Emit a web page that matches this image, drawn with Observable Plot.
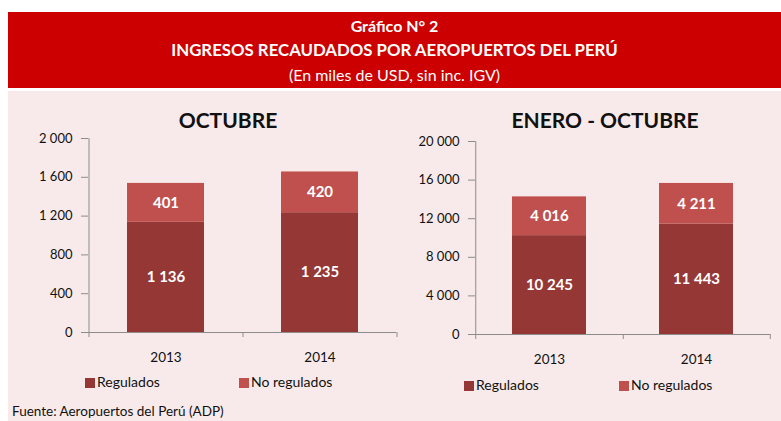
<!DOCTYPE html>
<html>
<head>
<meta charset="utf-8">
<script src="https://cdn.jsdelivr.net/npm/d3@7"></script>
<script src="https://cdn.jsdelivr.net/npm/@observablehq/plot@0.6"></script>
<style>
  html, body { margin: 0; padding: 0; background: #ffffff; }
  body { width: 781px; height: 421px; position: relative; overflow: hidden; font-family: Lato, "Open Sans", sans-serif; }
  #header { position: absolute; left: 8px; top: 12px; width: 773px; height: 76px; background: #cc0000; color: #fff; text-align: center; }
  #header .l1 { position: absolute; left: 0; right: 0; top: 4px; font-size: 16px; font-weight: bold; }
  #header .l2 { position: absolute; left: 0; right: 0; top: 27px; font-size: 16.8px; font-weight: bold; }
  #header .l3 { position: absolute; left: 0; right: 0; top: 53px; font-size: 16px; }
  #panel { position: absolute; left: 8px; top: 91px; width: 773px; height: 330px; background: #f8eaea; }
  .ctitle { position: absolute; font-size: 21px; font-weight: bold; color: #111; transform: translateX(-50%); white-space: nowrap; }
  .chart { position: absolute; }
  .legend { position: absolute; font-size: 14px; color: #111; white-space: nowrap; }
  .legend .sw { display: inline-block; width: 10px; height: 10px; margin-right: 2px; vertical-align: -1px; }
  #fuente { position: absolute; left: 12px; top: 403px; font-size: 13.5px; color: #111; }
</style>
</head>
<body>
<div id="header">
  <div class="l1">Gráfico N° 2</div>
  <div class="l2">INGRESOS RECAUDADOS POR AEROPUERTOS DEL PERÚ</div>
  <div class="l3">(En miles de USD, sin inc. IGV)</div>
</div>
<div id="panel"></div>
<div class="ctitle" style="left:228px; top:107px;">OCTUBRE</div>
<div class="ctitle" style="left:605px; top:107px;">ENERO - OCTUBRE</div>
<div id="c1" class="chart" style="left:0px; top:130px;"></div>
<div id="c2" class="chart" style="left:390px; top:130px;"></div>
<div class="legend" style="left:85px; top:373px;"><span class="sw" style="background:#953735"></span>Regulados</div>
<div class="legend" style="left:239px; top:373px;"><span class="sw" style="background:#c0504d"></span>No regulados</div>
<div class="legend" style="left:464px; top:376px;"><span class="sw" style="background:#953735"></span>Regulados</div>
<div class="legend" style="left:619px; top:376px;"><span class="sw" style="background:#c0504d"></span>No regulados</div>
<div id="fuente">Fuente: Aeropuertos del Perú (ADP)</div>
<script>
const years = ["2013", "2014"];
const series = ["Regulados", "No regulados"];
const colors = ["#953735", "#c0504d"];
const octubreRegulados = [1136, 1235];
const octubreNoRegulados = [401, 420];
const eneOctRegulados = [10245, 11443];
const eneOctNoRegulados = [4016, 4211];
const ticksOctubre = [0, 400, 800, 1200, 1600, 2000];
const ticksEneOct = [0, 4000, 8000, 12000, 16000, 20000];

const fmt = d => d3.format(",")(d).replace(/,/g, " ");

function buildData(reg, noreg) {
  const rows = [];
  years.forEach((y, i) => {
    rows.push({year: y, series: series[0], value: reg[i]});
    rows.push({year: y, series: series[1], value: noreg[i]});
  });
  return rows;
}

function chart(data, ticks, opts) {
  const maxTick = ticks[ticks.length - 1];
  const tickLen = maxTick * 0.026;
  const step = (opts.width - opts.marginLeft - opts.marginRight) / years.length;
  return Plot.plot({
    width: opts.width,
    height: 240,
    marginLeft: opts.marginLeft,
    marginRight: opts.marginRight,
    marginTop: opts.marginTop,
    marginBottom: opts.marginBottom,
    style: {background: "transparent", fontFamily: "Lato, 'Open Sans', sans-serif", fontSize: "13px", color: "#111"},
    x: {domain: years, paddingInner: opts.padding, paddingOuter: opts.padding / 2, align: 0.5, label: null},
    y: {domain: [0, maxTick], label: null},
    color: {domain: series, range: colors},
    marks: [
      Plot.barY(data, Plot.stackY({x: "year", y: "value", fill: "series", order: series})),
      Plot.text(data, Plot.stackY({x: "year", y: "value", z: "series", order: series, text: d => fmt(d.value), fill: "white", fontWeight: "bold", fontSize: 15})),
      Plot.ruleY([0], {stroke: "#8c8c8c"}),
      Plot.ruleX(years.slice(0, 1), {x: d => d, y1: -tickLen, y2: maxTick, stroke: "#8c8c8c", dx: -step / 2}),
      Plot.ruleX(years, {x: d => d, y1: -tickLen, y2: 0, stroke: "#8c8c8c", dx: step / 2}),
      Plot.axisY({ticks: ticks, tickFormat: fmt, tickSize: 7, tickPadding: 9, stroke: "#8c8c8c", fontSize: 13, label: null}),
      Plot.axisX({tickSize: 0, tickPadding: 20, fontSize: 13.5, label: null})
    ]
  });
}

document.getElementById("c1").appendChild(chart(buildData(octubreRegulados, octubreNoRegulados), ticksOctubre,
  {width: 400, marginLeft: 88, marginRight: 4, marginTop: 8, marginBottom: 38, padding: 0.5}));
document.getElementById("c2").appendChild(chart(buildData(eneOctRegulados, eneOctNoRegulados), ticksEneOct,
  {width: 391, marginLeft: 85, marginRight: 11, marginTop: 11, marginBottom: 36, padding: 0.5}));
</script>
</body>
</html>
